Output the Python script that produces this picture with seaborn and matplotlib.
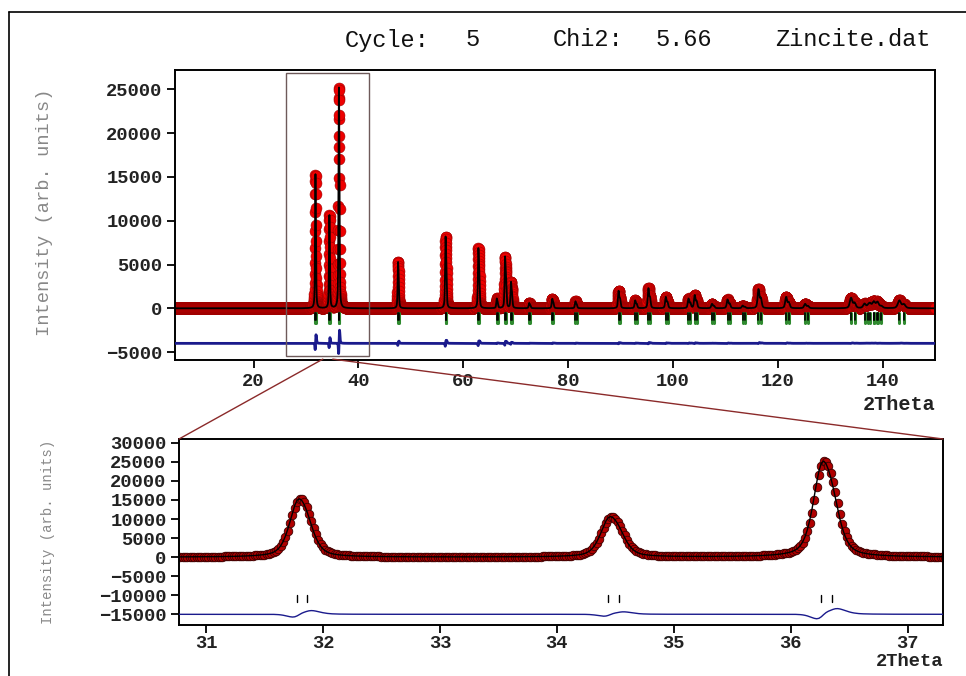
import numpy as np
import pandas as pd
import matplotlib
matplotlib.use("Agg")
import matplotlib.pyplot as plt
import seaborn as sns
from matplotlib.patches import Rectangle, ConnectionPatch

# ---------------- data ----------------
# reflection positions (2theta, Cu Ka1) and observed peak heights
peak_pos = [31.78, 34.44, 36.26, 47.55, 56.61, 62.88, 66.39, 67.97, 69.10,
            72.58, 76.97, 81.40, 89.63, 92.80, 95.32, 98.64, 102.97, 104.16,
            107.45, 110.42, 113.30, 116.32, 121.60, 125.22, 133.98, 136.55,
            137.60, 138.30, 139.00, 143.20]
peak_int = [15300, 10600, 25200, 5300, 8200, 6900, 1100, 5900, 3000,
            600, 1100, 800, 2000, 900, 2300, 1300, 1100, 1500,
            500, 1000, 300, 2200, 1300, 500, 1200, 500,
            450, 500, 450, 900]
# profile parameters (Caglioti U, W ; pseudo-Voigt mixing)
U_par, W_par, eta = 0.05, 0.026, 0.5
obs_width_ratio, obs_shift = 1.035, 0.008
scan = (5.0, 150.0, 0.02)

header = ["Cycle:", "5", "Chi2:", "5.66", "Zincite.dat"]
top_xticks = [20, 40, 60, 80, 100, 120, 140]
top_yticks = [-5000, 0, 5000, 10000, 15000, 20000, 25000]
bot_xticks = [31, 32, 33, 34, 35, 36, 37]
bot_yticks = [-15000, -10000, -5000, 0, 5000, 10000, 15000, 20000, 25000, 30000]
ylabel = "Intensity (arb. units)"
xlabel = "2Theta"

# ---------------- model ----------------
def pv(x, x0, w):
    d = (x - x0) / w
    return eta / (1 + 4 * d * d) + (1 - eta) * np.exp(-4 * np.log(2) * d * d)

def ka2(p):
    return 2 * np.degrees(np.arcsin(np.clip(1.00247 * np.sin(np.radians(p / 2)), 0, 1)))

def fwhm(p):
    t = np.tan(np.radians(p / 2))
    return np.sqrt(U_par * t * t + W_par)

def profile(x, wr=1.0, sh=0.0):
    y = np.zeros_like(x)
    for p, h in zip(peak_pos, peak_int):
        w = fwhm(p) * wr
        xx = np.linspace(p - 1, p + 2, 6001)
        norm = (pv(xx, p, w) + 0.5 * pv(xx, ka2(p), w)).max()
        y += h * (pv(x, p + sh, w) + 0.5 * pv(x, ka2(p) + sh, w)) / norm
    return y

x = np.arange(*scan)
calc = profile(x)
obs = profile(x, obs_width_ratio, obs_shift)
diff = obs - calc
df = pd.DataFrame({"tth": x, "obs": obs, "calc": calc, "diff": diff})

# ---------------- figure ----------------
sns.set_style("white")
plt.rcParams["font.family"] = ["Liberation Mono", "DejaVu Sans Mono"]
fig = plt.figure(figsize=(9.66, 6.76), dpi=100)

W, H = 966, 676
def ax_rect(l, t, r, b):
    return [l / W, 1 - b / H, (r - l) / W, (b - t) / H]

ax1 = fig.add_axes(ax_rect(175, 70, 935, 360))
ax2 = fig.add_axes(ax_rect(179, 439, 943, 625))

# top panel
sns.scatterplot(data=df, x="tth", y="obs", ax=ax1, s=62, color="#ee0000",
                edgecolor="#a00000", linewidth=0.4, zorder=2, legend=False)
sns.lineplot(data=df, x="tth", y="calc", ax=ax1, color="black", lw=1.3,
             estimator=None, sort=False, zorder=3)
df["diff_top"] = df["diff"] - 4000
sns.lineplot(data=df, x="tth", y="diff_top", ax=ax1, color="#1a1a8c", lw=2.0,
             estimator=None, sort=False, zorder=3)
for p in peak_pos:
    for q in (p, ka2(p)):
        ax1.plot([q, q], [-550, -1650], color="#2f8a2f", lw=2.2, zorder=3)
        ax1.plot([q, q], [-550, -1350], color="black", lw=1.2, zorder=4)
ax1.set_xlim(5, 150)
ax1.set_ylim(-5900, 27200)

# zoom rectangle
ax1.add_patch(Rectangle((26.1, -5450), 42.0 - 26.1, 26860 + 5450, fill=False,
                        edgecolor="#6e5a5a", lw=1.0, zorder=5))

# bottom panel
sns.scatterplot(data=df, x="tth", y="obs", ax=ax2, s=38, color="#b00000",
                edgecolor="#3a0000", linewidth=0.6, zorder=2, legend=False)
sns.lineplot(data=df, x="tth", y="calc", ax=ax2, color="black", lw=1.0,
             estimator=None, sort=False, zorder=3)
df["diff_bot"] = df["diff"] - 15000
sns.lineplot(data=df, x="tth", y="diff_bot", ax=ax2, color="#1a1a8c", lw=1.0,
             estimator=None, sort=False, zorder=3)
for p in peak_pos:
    for q in (p, ka2(p)):
        ax2.plot([q, q], [-9900, -11800], color="black", lw=1.0, zorder=3)
ax2.set_xlim(30.77, 37.30)
ax2.set_ylim(-17800, 31000)

tick_font = dict(family=["Liberation Mono", "DejaVu Sans Mono"], weight="bold", size=13.5)
for ax, xt, yt in ((ax1, top_xticks, top_yticks), (ax2, bot_xticks, bot_yticks)):
    ax.set_xticks(xt)
    ax.set_yticks(yt)
    ax.set_xticklabels([str(v) for v in xt], **tick_font, color="#222222")
    ax.set_yticklabels([str(v).replace("-", "\u2212") for v in yt], **tick_font, color="#222222")
    ax.tick_params(axis="both", direction="out", length=6, width=1.3, color="black",
                   bottom=True, left=True, pad=3)
    ax.set_xlabel("")
    ax.set_ylabel("")
    for s in ax.spines.values():
        s.set_color("black")
        s.set_linewidth(1.4)
ax2.tick_params(axis="x", pad=1.5)

# connection lines
for xa, corner in ((33.2, (0, 1)), (35.1, (1, 1))):
    con = ConnectionPatch(xyA=(xa, -5800), coordsA=ax1.transData,
                          xyB=corner, coordsB=ax2.transAxes,
                          color="#8b2a2a", lw=1.0, zorder=10)
    fig.add_artist(con)

# texts
hx = [345, 465, 553, 655, 775]
for txt, px in zip(header, hx):
    fig.text(px / W, 1 - 40 / H, txt, ha="left", va="center", fontsize=17,
             color="#111111")
fig.text(935 / W, 1 - 405 / H, xlabel, ha="right", va="center", fontsize=14.5,
         weight="bold", color="#222222")
fig.text(943 / W, 1 - 661 / H, xlabel, ha="right", va="center", fontsize=13.5,
         weight="bold", color="#222222")
fig.text(45 / W, 1 - 212 / H, ylabel, rotation=90, ha="center", va="center",
         fontsize=13.5, color="#888888")
fig.text(48 / W, 1 - 532 / H, ylabel, rotation=90, ha="center", va="center",
         fontsize=10, color="#888888")

# outer frame (left and top edges)
fig.add_artist(plt.Line2D([9 / W, 9 / W], [0, 1 - 12 / H], color="black", lw=1.2))
fig.add_artist(plt.Line2D([9 / W, 1], [1 - 12 / H, 1 - 12 / H], color="black", lw=1.2))

fig.savefig("out.png", dpi=100)
